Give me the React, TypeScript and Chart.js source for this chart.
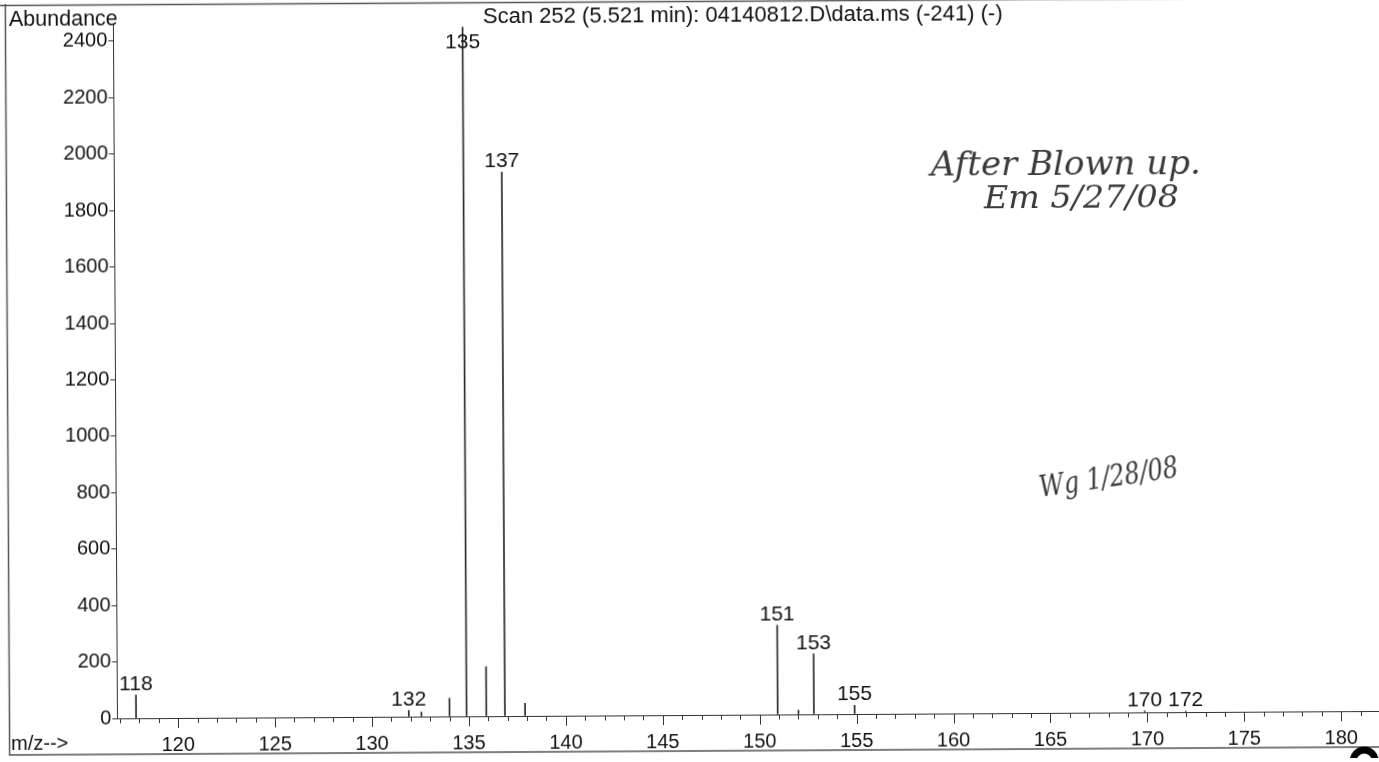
import React, { useEffect, useRef } from 'react';
import { Chart, registerables } from 'chart.js';

Chart.register(...registerables);

// ---- data ----
const mzValues = [117.83, 131.9, 132.55, 134.0, 134.88, 135.9, 136.86, 137.9, 150.93, 152.0, 152.8, 154.9, 169.86, 171.98];
const abundanceValues = [82, 22, 16, 64, 2443, 175, 1928, 45, 316, 15, 214, 31, 5, 3];
const peakLabels = ['118', '132', '', '', '135', '', '137', '', '151', '', '153', '155', '170', '172'];
const xRange = [116.86, 182];
const yRange = [0, 2460];
const xMajorStep = 5;
const yTickStep = 200;
const titleText = 'Scan 252 (5.521 min): 04140812.D\\data.ms (-241) (-)';
const yAxisTitle = 'Abundance';
const xAxisTitle = 'm/z-->';
const notes = ['After Blown up.', 'Em 5/27/08', 'Wg 1/28/08'];

const FONT = '"Liberation Sans", Arial, sans-serif';

function drawNote(ctx: CanvasRenderingContext2D, text: string, x: number, baseline: number, width: number, size: number, angle: number) {
  ctx.save();
  ctx.font = `italic ${size}px "DejaVu Serif"`;
  const w = ctx.measureText(text).width;
  ctx.translate(x, baseline);
  ctx.rotate(angle);
  ctx.scale(width / w, 1);
  ctx.fillStyle = '#3a3a3a';
  ctx.textAlign = 'left';
  ctx.textBaseline = 'alphabetic';
  ctx.fillText(text, 0, 0);
  ctx.restore();
}

const decor = {
  id: 'decor',
  afterDraw(chart: any) {
    const ctx: CanvasRenderingContext2D = chart.ctx;
    const xs = chart.scales.x;
    const area = chart.chartArea;
    ctx.save();
    // frame
    ctx.strokeStyle = '#555';
    ctx.lineWidth = 1.5;
    ctx.beginPath();
    ctx.moveTo(0, 1.5);
    ctx.lineTo(1379, 1.5);
    ctx.stroke();
    ctx.beginPath();
    ctx.moveTo(7.5, 0);
    ctx.lineTo(7.5, 751);
    ctx.lineTo(1379, 751);
    ctx.stroke();

    // x ticks (minor every 1, major every 5)
    ctx.strokeStyle = '#333';
    ctx.lineWidth = 1;
    for (let v = Math.ceil(xs.min); v <= xs.max; v++) {
      const px = Math.round(xs.getPixelForValue(v)) + 0.5;
      const len = v % xMajorStep === 0 ? 10 : 5;
      ctx.beginPath();
      ctx.moveTo(px, area.bottom);
      ctx.lineTo(px, area.bottom + len);
      ctx.stroke();
    }

    // header texts
    ctx.fillStyle = '#111';
    ctx.textBaseline = 'alphabetic';
    ctx.textAlign = 'left';
    ctx.font = `21.5px ${FONT}`;
    ctx.fillText(yAxisTitle, 11, 22);
    ctx.font = `22px ${FONT}`;
    ctx.fillText(titleText, 485, 22);
    ctx.font = `20px ${FONT}`;
    ctx.fillText(xAxisTitle, 9, 746);

    // handwritten notes
    drawNote(ctx, notes[0], 932, 177, 270, 34, 0);
    drawNote(ctx, notes[1], 985, 210, 195, 32, 0);
    drawNote(ctx, notes[2], 1040, 499, 140, 30, -0.14);

    // partial black mark at the bottom right
    ctx.strokeStyle = '#000';
    ctx.lineWidth = 7;
    ctx.beginPath();
    ctx.arc(1362, 765, 11, 0, Math.PI * 2);
    ctx.stroke();
    ctx.restore();
  },
  afterDatasetsDraw(chart: any) {
    const ctx: CanvasRenderingContext2D = chart.ctx;
    const meta = chart.getDatasetMeta(0);
    const area = chart.chartArea;
    ctx.save();
    ctx.fillStyle = '#111';
    ctx.font = `21px ${FONT}`;
    ctx.textAlign = 'center';
    ctx.textBaseline = 'alphabetic';
    meta.data.forEach((el: any, i: number) => {
      const label = peakLabels[i];
      if (!label) return;
      const y = Math.max(el.y - 5, area.top + 26);
      ctx.fillText(label, el.x, y);
    });
    ctx.restore();
  },
};

export default function App() {
  const canvasRef = useRef<HTMLCanvasElement | null>(null);

  useEffect(() => {
    const canvas = canvasRef.current;
    if (!canvas) return;
    const chart = new Chart(canvas, {
      type: 'bar',
      data: {
        datasets: [
          {
            data: mzValues.map((x, i) => ({ x, y: abundanceValues[i] })),
            backgroundColor: '#2a2a2a',
            borderWidth: 0,
            barThickness: 1,
            grouped: false,
          } as any,
        ],
      },
      options: {
        responsive: false,
        animation: false,
        devicePixelRatio: 1,
        layout: { padding: { top: 21, right: 1, left: 0, bottom: 0 } },
        plugins: {
          legend: { display: false },
          tooltip: { enabled: false },
          title: { display: false },
        },
        scales: {
          x: {
            type: 'linear',
            min: xRange[0],
            max: xRange[1],
            offset: false,
            grid: { display: false, drawTicks: true, tickLength: 10 },
            border: { display: true, color: '#333', width: 1 },
            ticks: {
              stepSize: xMajorStep,
              includeBounds: false,
              autoSkip: false,
              maxRotation: 0,
              padding: 5,
              color: '#111',
              font: { size: 20, family: FONT },
              callback: (v: any) => String(v),
            },
            afterFit: (s: any) => {
              s.height = 47;
            },
          } as any,
          y: {
            type: 'linear',
            min: yRange[0],
            max: yRange[1],
            grid: { drawOnChartArea: false, drawTicks: true, tickLength: 5, color: '#333' },
            border: { display: true, color: '#333', width: 1 },
            ticks: {
              stepSize: yTickStep,
              includeBounds: false,
              padding: 1,
              color: '#111',
              font: { size: 20, family: FONT },
              callback: (v: any) => String(v),
            },
            afterFit: (s: any) => {
              s.width = 115.3;
            },
          } as any,
        },
      },
      plugins: [decor as any],
    });
    return () => chart.destroy();
  }, []);

  return (
    <div style={{ position: 'fixed', left: 0, top: 0, width: 1379, height: 762, overflow: 'hidden', background: '#fff' }}>
      <div style={{ width: 1379, height: 762, transform: 'rotate(-0.335deg)' }}>
        <canvas ref={canvasRef} width={1379} height={762} style={{ display: 'block', width: 1379, height: 762 }} />
      </div>
    </div>
  );
}
